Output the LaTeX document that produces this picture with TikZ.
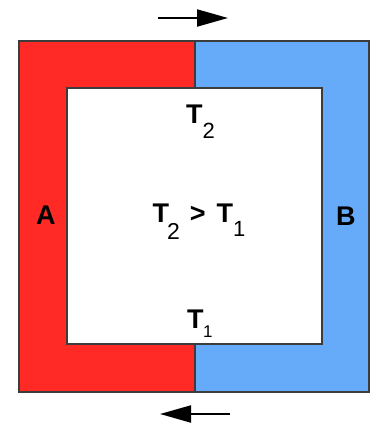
\documentclass[tikz,border=0pt]{standalone}
\usepackage{fontspec}
\setmainfont{Liberation Sans}
\usetikzlibrary{arrows.meta}
\definecolor{hotred}{RGB}{255,42,38}
\definecolor{coolblue}{RGB}{102,170,250}
\definecolor{edgegray}{RGB}{60,60,60}
% #1 digit, #2 digit size, #3 drop, #4 kern
\newcommand{\Tsub}[4]{\textbf{T}\kern#4\raisebox{-#3}{\fontsize{#2}{#2}\selectfont\mdseries #1}}
\tikzset{
  wall/.style={draw=edgegray, line width=1.1pt},
  lbl/.style={font=\fontsize{27}{27}\selectfont\bfseries, inner sep=0pt, anchor=base west},
  flow/.style={line width=2pt, -{Triangle[length=31pt,width=17pt]}}
}
\begin{document}
\begin{tikzpicture}[x=1pt,y=-1pt]
\useasboundingbox (0,0) rectangle (376,424);
\fill[white] (0,0) rectangle (376,424);
\fill[hotred] (19,41) -- (195,41) -- (195,88) -- (67,88) -- (67,344) -- (195,344) -- (195,392) -- (19,392) -- cycle;
\fill[coolblue] (195,41) -- (369,41) -- (369,392) -- (195,392) -- (195,344) -- (322,344) -- (322,88) -- (195,88) -- cycle;
\draw[wall] (19,41) rectangle (369,392);
\draw[wall] (67,88) rectangle (322,344);
\draw[wall] (195,41) -- (195,88);
\draw[wall] (195,344) -- (195,392);
\node[lbl] (A) at (36,224) {A};
\node[lbl] (B) at (336,225) {B};
\node[lbl] (T2) at (186,123) {\Tsub{2}{22}{15pt}{0pt}};
\node[lbl] (cmp) at (152.5,222) {\Tsub{2}{23}{17pt}{-2pt}\hspace{10pt}>\hspace{11pt}\Tsub{1}{22}{14pt}{0pt}};
\node[lbl] (T1) at (187,328) {\Tsub{1}{17}{9pt}{-0.5pt}};
\coordinate (ta) at (158,18);
\coordinate (tb) at (228,18);
\coordinate (ba) at (230,414);
\coordinate (bb) at (160,414);
\draw[flow] (ta) -- (tb);
\draw[flow] (ba) -- (bb);
\end{tikzpicture}
\end{document}
